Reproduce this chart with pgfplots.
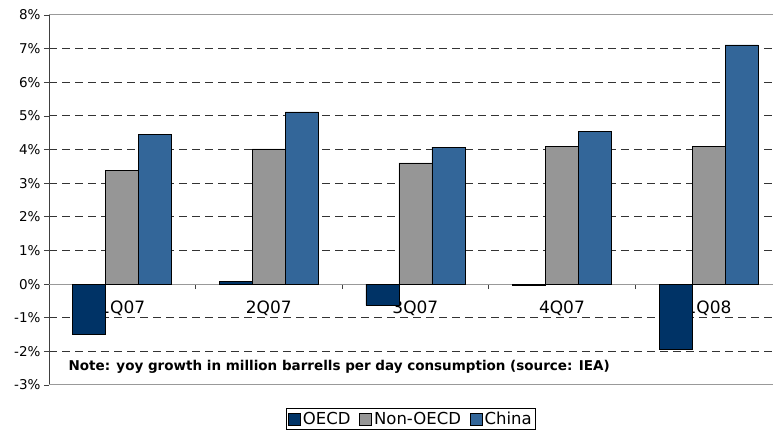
\documentclass[border=0pt]{standalone}
\usepackage{fontspec}
\setmainfont{DejaVu Sans}
\usepackage{pgfplots}
\pgfplotsset{compat=1.18}
\definecolor{oecd}{HTML}{003366}
\definecolor{nonoecd}{HTML}{969696}
\definecolor{china}{HTML}{336699}
\pgfplotsset{layers/mylayers/.define layer set={axis background,axis grid,pre main,main,axis ticks,axis lines,axis tick labels,axis descriptions,axis foreground}{}}
\begin{document}
\begin{tikzpicture}
\begin{axis}[
  set layers=mylayers,
  at={(0,0)}, anchor=south west,
  scale only axis, width=724pt, height=370pt,
  xmin=-0.5, xmax=4.44, ymin=-3, ymax=8,
  ybar=0pt, bar width=33pt,
  axis x line=middle, axis y line=left,
  axis line style={-},
  x axis line style={black, line width=1pt},
  y axis line style={black!75, line width=1pt},
  xtick={0.5,1.5,2.5,3.5}, xticklabels={},
  extra x ticks={0,1,2,3,4},
  extra x tick labels={1Q07,2Q07,3Q07,4Q07,1Q08},
  extra x tick style={major tick length=0pt},
  xticklabel style={font=\fontsize{17}{19}\selectfont, yshift=-13pt},
  ytick={-2,-1,1,2,3,4,5,6,7},
  extra y ticks={-3,0,8},
  extra y tick labels={-3\%,0\%,8\%},
  extra y tick style={grid style={solid, black!40, line width=1pt}},
  yticklabel={\pgfmathprintnumber{\tick}\%},
  yticklabel style={font=\fontsize{13.5}{15}\selectfont},
  /pgf/number format/assume math mode=true,
  tick align=outside, major tick length=5pt,
  tick style={black!75, line width=0.8pt},
  ymajorgrids,
  grid style={black!80, dash pattern=on 8pt off 5pt, line width=0.9pt},
  legend style={at={(0.5,-0.062)}, anchor=north, legend columns=3,
    draw=black, line width=0.8pt, font=\fontsize{16.5}{18}\selectfont,
    inner sep=1.5pt,
    /tikz/every even column/.append style={column sep=7pt}},
  legend image code/.code={\draw[#1, line width=0.6pt] (0pt,-6pt) rectangle (12pt,6pt);},
]
\addplot[draw=black, line width=0.6pt, fill=oecd] coordinates {(0,-1.49) (1,0.09) (2,-0.63) (3,-0.05) (4,-1.93)};
\addplot[draw=black, line width=0.6pt, fill=nonoecd] coordinates {(0,3.39) (1,4.02) (2,3.6) (3,4.1) (4,4.1)};
\addplot[draw=black, line width=0.6pt, fill=china] coordinates {(0,4.46) (1,5.12) (2,4.07) (3,4.55) (4,7.11)};
\legend{OECD,Non-OECD,China}
\node[anchor=west, font=\bfseries\fontsize{13.5}{15}\selectfont] at (axis cs:-0.39,-2.47) {Note: yoy growth in million barrells per day consumption (source: IEA)};
\end{axis}
\pgfresetboundingbox
\path[use as bounding box] (-49pt,-45pt) rectangle (724pt,385pt);
\end{tikzpicture}
\end{document}
